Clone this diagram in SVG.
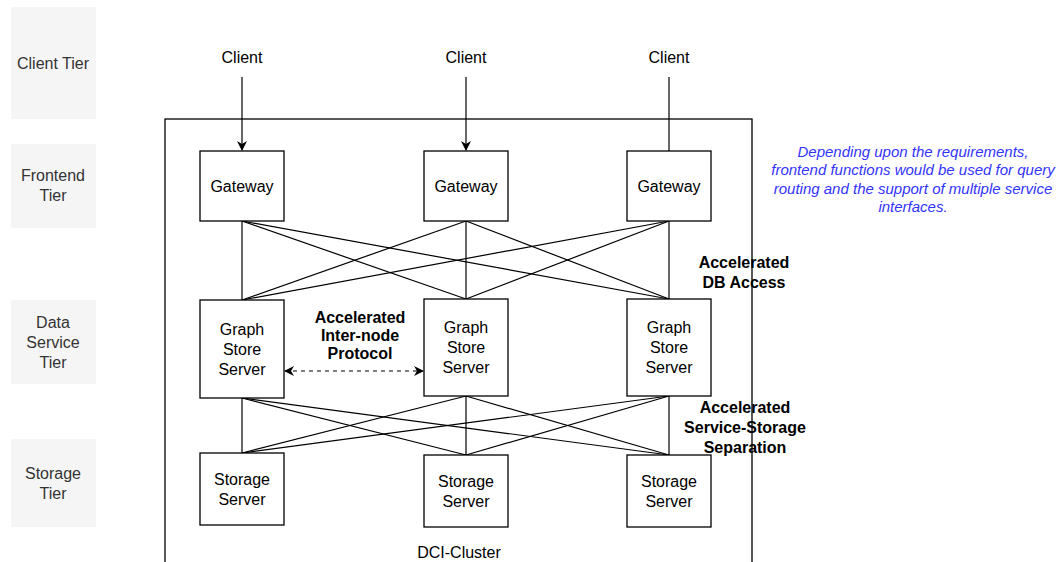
<svg xmlns="http://www.w3.org/2000/svg" width="1063" height="562" viewBox="0 0 1063 562">
<style>
.tier{fill:#f5f5f5;stroke:none}
.tt{font-family:"Liberation Sans",Arial,sans-serif;font-size:16px;fill:#333;text-anchor:middle}
.box{fill:#fff;stroke:#000;stroke-width:1.3}
.lb{font-family:"Liberation Sans",Arial,sans-serif;font-size:16px;fill:#000;text-anchor:middle}
.bold{font-family:"Liberation Sans",Arial,sans-serif;font-size:16px;font-weight:bold;fill:#000;text-anchor:middle}
.note{font-family:"Liberation Sans",Arial,sans-serif;font-size:15px;font-style:italic;fill:#3333ff;text-anchor:middle}
.edge{stroke:#000;stroke-width:1.2;fill:none}
</style>
<defs>
<marker id="ah" viewBox="0 0 10 10" refX="9" refY="5" markerWidth="10" markerHeight="10" markerUnits="userSpaceOnUse" orient="auto-start-reverse">
<path d="M0,0 L10,5 L0,10 L3,5 Z" fill="#000"/>
</marker>
</defs>
<rect width="1063" height="562" fill="#fff"/>
<g id="tier-client"><rect class="tier" x="11" y="7" width="85" height="112"/><text class="tt" x="53" y="69">Client Tier</text></g>
<g id="tier-frontend"><rect class="tier" x="11" y="144" width="85" height="84"/><text class="tt" x="53" y="181">Frontend</text><text class="tt" x="53" y="201">Tier</text></g>
<g id="tier-data"><rect class="tier" x="11" y="300" width="85" height="84"/><text class="tt" x="53" y="328">Data</text><text class="tt" x="53" y="348">Service</text><text class="tt" x="53" y="368">Tier</text></g>
<g id="tier-storage"><rect class="tier" x="11" y="439" width="85" height="88"/><text class="tt" x="53" y="479">Storage</text><text class="tt" x="53" y="499">Tier</text></g>
<g id="cluster"><rect x="165" y="119" width="587" height="460" fill="none" stroke="#000" stroke-width="1.3"/><text class="lb" x="459" y="558">DCI-Cluster</text></g>
<g id="connectors">
<line class="edge" x1="242" y1="77" x2="242" y2="150" marker-end="url(#ah)"/>
<line class="edge" x1="466" y1="77" x2="466" y2="150" marker-end="url(#ah)"/>
<line class="edge" x1="669" y1="77" x2="669" y2="151"/>
<line class="edge" x1="242" y1="221" x2="242" y2="300"/>
<line class="edge" x1="242" y1="221" x2="466" y2="299"/>
<line class="edge" x1="242" y1="221" x2="669" y2="299"/>
<line class="edge" x1="466" y1="221" x2="242" y2="300"/>
<line class="edge" x1="466" y1="221" x2="466" y2="299"/>
<line class="edge" x1="466" y1="221" x2="669" y2="299"/>
<line class="edge" x1="669" y1="221" x2="242" y2="300"/>
<line class="edge" x1="669" y1="221" x2="466" y2="299"/>
<line class="edge" x1="669" y1="221" x2="669" y2="299"/>
<line class="edge" x1="242" y1="398" x2="242" y2="453"/>
<line class="edge" x1="242" y1="398" x2="466" y2="455"/>
<line class="edge" x1="242" y1="398" x2="669" y2="455"/>
<line class="edge" x1="466" y1="396" x2="242" y2="453"/>
<line class="edge" x1="466" y1="396" x2="466" y2="455"/>
<line class="edge" x1="466" y1="396" x2="669" y2="455"/>
<line class="edge" x1="669" y1="396" x2="242" y2="453"/>
<line class="edge" x1="669" y1="396" x2="466" y2="455"/>
<line class="edge" x1="669" y1="396" x2="669" y2="455"/>
<line class="edge" x1="285" y1="371" x2="423" y2="371" stroke-dasharray="4 4" marker-start="url(#ah)" marker-end="url(#ah)"/>
</g>
<g id="client1"><text class="lb" x="242" y="63">Client</text></g>
<g id="client2"><text class="lb" x="466" y="63">Client</text></g>
<g id="client3"><text class="lb" x="669" y="63">Client</text></g>
<g id="gateway1"><rect class="box" x="200" y="151" width="84" height="70"/><text class="lb" x="242" y="192">Gateway</text></g>
<g id="gateway2"><rect class="box" x="424" y="151" width="84" height="70"/><text class="lb" x="466" y="192">Gateway</text></g>
<g id="gateway3"><rect class="box" x="627" y="151" width="84" height="70"/><text class="lb" x="669" y="192">Gateway</text></g>
<g id="graph1"><rect class="box" x="200" y="300" width="84" height="98"/><text class="lb" x="242" y="335">Graph</text><text class="lb" x="242" y="355">Store</text><text class="lb" x="242" y="375">Server</text></g>
<g id="graph2"><rect class="box" x="424" y="299" width="84" height="97"/><text class="lb" x="466" y="333">Graph</text><text class="lb" x="466" y="353">Store</text><text class="lb" x="466" y="373">Server</text></g>
<g id="graph3"><rect class="box" x="627" y="299" width="84" height="97"/><text class="lb" x="669" y="333">Graph</text><text class="lb" x="669" y="353">Store</text><text class="lb" x="669" y="373">Server</text></g>
<g id="storage1"><rect class="box" x="200" y="453" width="84" height="72"/><text class="lb" x="242" y="485">Storage</text><text class="lb" x="242" y="505">Server</text></g>
<g id="storage2"><rect class="box" x="424" y="455" width="84" height="72"/><text class="lb" x="466" y="487">Storage</text><text class="lb" x="466" y="507">Server</text></g>
<g id="storage3"><rect class="box" x="627" y="455" width="84" height="72"/><text class="lb" x="669" y="487">Storage</text><text class="lb" x="669" y="507">Server</text></g>
<g id="label-internode"><text class="bold" x="360" y="323">Accelerated</text><text class="bold" x="360" y="341">Inter-node</text><text class="bold" x="360" y="359">Protocol</text></g>
<g id="label-db"><text class="bold" x="744" y="268">Accelerated</text><text class="bold" x="744" y="288">DB Access</text></g>
<g id="label-sep"><text class="bold" x="745" y="413">Accelerated</text><text class="bold" x="745" y="433">Service-Storage</text><text class="bold" x="745" y="453">Separation</text></g>
<g id="note"><text class="note" x="913" y="157">Depending upon the requirements,</text><text class="note" x="913" y="175">frontend functions would be used for query</text><text class="note" x="913" y="194">routing and the support of multiple service</text><text class="note" x="913" y="212">interfaces.</text></g>
</svg>
